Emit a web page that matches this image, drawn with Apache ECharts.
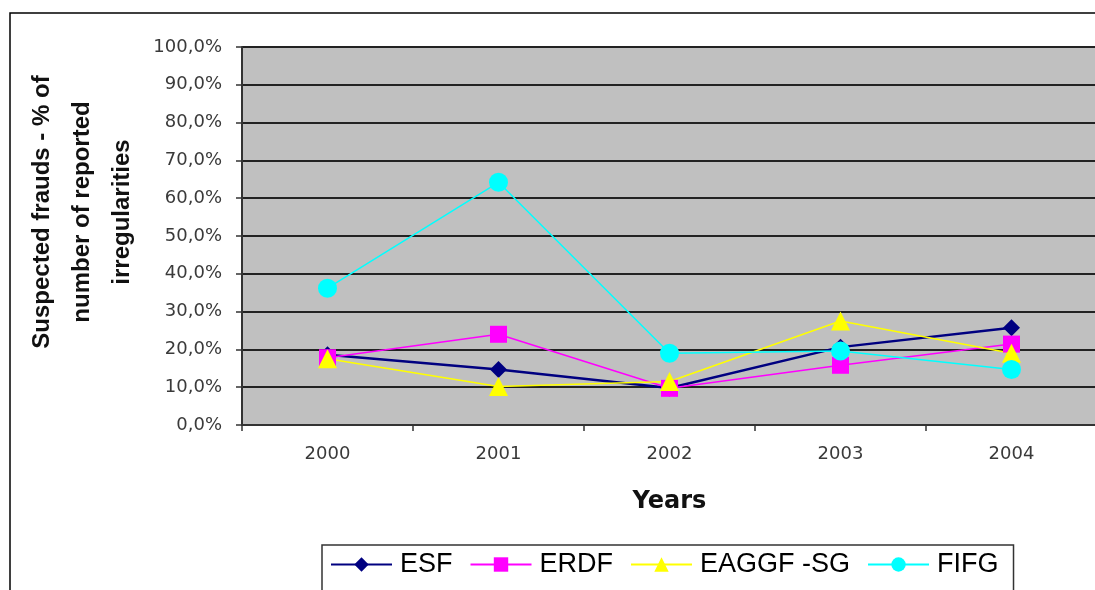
<!DOCTYPE html>
<html>
<head>
<meta charset="utf-8">
<script src="https://cdn.jsdelivr.net/npm/echarts@6/dist/echarts.min.js"></script>
<style>html,body{margin:0;padding:0;background:#fff}#c{width:1095px;height:590px}</style>
</head>
<body>
<div id="c"></div>
<script>
var years = ['2000', '2001', '2002', '2003', '2004'];
var esf = [0.186, 0.147, 0.098, 0.206, 0.257];
var erdf = [0.178, 0.240, 0.097, 0.158, 0.214];
var eaggf = [0.175, 0.102, 0.115, 0.275, 0.190];
var fifg = [0.362, 0.642, 0.190, 0.196, 0.147];
var seriesNames = ['ESF', 'ERDF', 'EAGGF -SG', 'FIFG'];
var yAxisTitle = 'Suspected frauds - % of\nnumber of reported\nirregularities';
var xAxisTitle = 'Years';

var sans = '"Liberation Sans", Arial, sans-serif';
var wide = '"DejaVu Sans", sans-serif';
var chart = echarts.init(document.getElementById('c'), null, {renderer: 'canvas'});

function mk(name, data, color, symbol, size, lw) {
  return {
    name: name, type: 'line', data: data,
    symbol: symbol, symbolSize: size,
    lineStyle: {color: color, width: lw},
    itemStyle: {color: color},
    emphasis: {disabled: true},
    animation: false
  };
}

chart.setOption({
  animation: false,
  backgroundColor: '#fff',
  graphic: [{
    type: 'rect', shape: {x: 10, y: 13, width: 1200, height: 700},
    style: {fill: 'none', stroke: '#000', lineWidth: 1.5}, z: 0
  }],
  grid: {left: 242, top: 47, width: 855, height: 378, show: true,
    containLabel: false, outerBoundsMode: 'none',
    backgroundColor: '#c0c0c0', borderWidth: 0},
  xAxis: {
    type: 'category', data: years, boundaryGap: true,
    name: xAxisTitle, nameLocation: 'middle', nameGap: 65,
    nameTextStyle: {fontFamily: wide, fontSize: 24, fontWeight: 'bold', color: '#111'},
    axisLine: {lineStyle: {color: '#333', width: 2}},
    axisTick: {show: true, length: 6, lineStyle: {color: '#333', width: 1.5}},
    axisLabel: {fontFamily: wide, fontSize: 18, color: '#3a3a3a', margin: 20}
  },
  yAxis: {
    type: 'value', min: 0, max: 1, interval: 0.1,
    name: yAxisTitle, nameLocation: 'middle', nameGap: 100, nameRotate: 90,
    nameTextStyle: {fontFamily: sans, fontSize: 24, fontWeight: 'bold', color: '#111',
      lineHeight: 40, align: 'center', padding: [0, 0, 0, 48]},
    axisLine: {show: true, lineStyle: {color: '#333', width: 2}},
    axisTick: {show: true, length: 6, lineStyle: {color: '#333', width: 1.5}},
    splitLine: {lineStyle: {color: '#222', width: 2}},
    axisLabel: {fontFamily: wide, fontSize: 18, color: '#3a3a3a', margin: 20,
      formatter: function (v) { return (v * 100).toFixed(1).replace('.', ',') + '%'; }}
  },
  legend: {
    data: seriesNames, left: 322, top: 545,
    itemWidth: 61, itemHeight: 18, itemGap: 17,
    padding: [6, 15, 14, 8],
    borderColor: '#333', borderWidth: 1.5,
    textStyle: {fontFamily: sans, fontSize: 27, color: '#000', padding: [0, 0, 0, 3]}
  },
  series: [
    mk(seriesNames[0], esf, '#000080', 'diamond', 17, 2.5),
    mk(seriesNames[1], erdf, '#ff00ff', 'rect', 17, 1.5),
    mk(seriesNames[2], eaggf, '#ffff00', 'triangle', 19, 1.5),
    mk(seriesNames[3], fifg, '#00ffff', 'circle', 19, 1.5)
  ]
});
</script>
</body>
</html>
